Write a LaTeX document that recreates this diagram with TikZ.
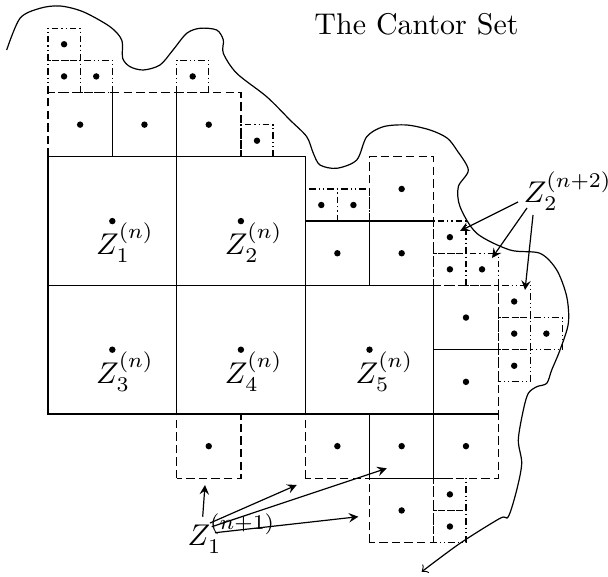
\documentclass[tikz,border=0pt]{standalone}
\usepackage{amsmath,amssymb}
\usepackage{tikz}
\usepackage{xcolor}
\usetikzlibrary{calc}
\begin{document}
\begin{tikzpicture}[scale=0.377,
  med/.style={dash pattern=on 2.8pt off 1.4pt},
  sml/.style={dash pattern=on 2.2pt off 1pt on 0.4pt off 1pt on 0.4pt off 1pt},
  lab/.style={inner sep=0pt, anchor=base west}]
\useasboundingbox (-1.493,-5.039) rectangle (17.418,12.877);
\node[anchor=base] (title) at (11.462,11.789) {The Cantor Set};
\draw (0,4) rectangle (4,8); \draw (4,4) rectangle (8,8);
\draw (0,0) rectangle (4,4); \draw (4,0) rectangle (8,4); \draw (8,0) rectangle (12,4);
\fill (2,6) circle (0.1); \fill (6,6) circle (0.1); \fill (2,2) circle (0.1);
\fill (6,2) circle (0.1); \fill (10,2) circle (0.1);
\node[lab] (za) at (1.48,4.96) {$Z_1^{(n)}$};
\node[lab] (zb) at (5.48,4.96) {$Z_2^{(n)}$};
\node[lab] (zc) at (1.48,0.96) {$Z_3^{(n)}$};
\node[lab] (zd) at (5.48,0.96) {$Z_4^{(n)}$};
\node[lab] (ze) at (9.55,0.96) {$Z_5^{(n)}$};
\draw[med] (0,8) rectangle (2,10); \draw[med] (2,8) rectangle (4,10); \draw[med] (4,8) rectangle (6,10);
\draw[med] (8,4) rectangle (10,6); \draw[med] (10,4) rectangle (12,6); \draw[med] (10,6) rectangle (12,8);
\draw[med] (12,2) rectangle (14,4); \draw[med] (12,0) rectangle (14,2);
\draw[med] (4,-2) rectangle (6,0); \draw[med] (8,-2) rectangle (10,0);
\draw[med] (10,-2) rectangle (12,0); \draw[med] (12,-2) rectangle (14,0);
\draw[med] (10,-4) rectangle (12,-2);
\draw (2,8) -- (2,10); \draw (4,8) -- (4,10);
\draw (8,6) -- (12,6); \draw (10,4) -- (10,6);
\draw (12,2) -- (14,2); \draw (12,0) -- (14,0);
\draw (12,0) -- (10,0) -- (10,-2) -- (12,-2) -- (12,0);
\fill (1,9) circle (0.1); \fill (3,9) circle (0.1); \fill (5,9) circle (0.1);
\fill (9,5) circle (0.1); \fill (11,5) circle (0.1); \fill (11,7) circle (0.1);
\fill (13,3) circle (0.1); \fill (13,1) circle (0.1);
\fill (5,-1) circle (0.1); \fill (9,-1) circle (0.1); \fill (11,-1) circle (0.1);
\fill (13,-1) circle (0.1); \fill (11,-3) circle (0.1);
\draw[sml] (0,11) rectangle (1,12); \draw[sml] (0,10) rectangle (1,11); \draw[sml] (1,10) rectangle (2,11);
\draw[sml] (4,10) rectangle (5,11); \draw[sml] (6,8) rectangle (7,9);
\draw[sml] (8,6) rectangle (9,7); \draw[sml] (9,6) rectangle (10,7);
\draw[sml] (12,5) rectangle (13,6); \draw[sml] (12,4) rectangle (13,5); \draw[sml] (13,4) rectangle (14,5);
\draw[sml] (14,3) rectangle (15,4); \draw[sml] (14,2) rectangle (15,3); \draw[sml] (15,2) rectangle (16,3);
\draw[sml] (14,1) rectangle (15,2);
\draw[sml] (12,-3) rectangle (13,-2); \draw[sml] (12,-4) rectangle (13,-3);
\fill (0.5,11.5) circle (0.1); \fill (0.5,10.5) circle (0.1); \fill (1.5,10.5) circle (0.1);
\fill (4.5,10.5) circle (0.1); \fill (6.5,8.5) circle (0.1);
\fill (8.5,6.5) circle (0.1); \fill (9.5,6.5) circle (0.1);
\fill (12.5,5.5) circle (0.1); \fill (12.5,4.5) circle (0.1); \fill (13.5,4.5) circle (0.1);
\fill (14.5,3.5) circle (0.1); \fill (14.5,2.5) circle (0.1); \fill (15.5,2.5) circle (0.1);
\fill (14.5,1.5) circle (0.1);
\fill (12.5,-2.5) circle (0.1); \fill (12.5,-3.5) circle (0.1);
\draw[->] plot[smooth, tension=0.5] coordinates {(-1.285,11.322) (-0.871,12.308) (-0.249,12.619)
  (0.373,12.691) (1.089,12.513) (1.928,12.047) (2.292,11.633) (2.323,11.064) (2.551,10.803)
  (2.964,10.700) (3.484,10.855) (3.888,11.322) (4.314,11.841) (4.728,11.997) (5.247,11.944)
  (5.453,11.633) (5.453,11.219) (5.869,10.597) (6.802,9.869) (7.527,9.145) (8.047,8.625)
  (8.252,8.109) (8.460,7.745) (8.980,7.642) (9.602,7.900) (9.913,8.625) (10.429,8.936)
  (11.157,8.989) (11.882,8.834) (12.411,8.585) (12.712,8.212) (13.073,7.589) (12.762,7.070)
  (12.815,6.448) (13.334,5.621) (14.370,5.101) (15.303,4.998) (15.823,4.479) (16.134,3.649)
  (16.184,2.821) (15.925,1.991) (15.667,1.369) (15.512,0.955) (15.201,0.849) (14.939,0.644)
  (14.784,0.124) (14.628,-0.809) (14.734,-1.533) (14.578,-2.364) (14.317,-3.194) (14.059,-3.244)
  (12.815,-4.022) (11.624,-4.905)};
\node[lab] (ztwo) at (14.78,6.563) {$Z_2^{(n+2)}$};
\coordinate (p1) at (12.815,5.692); \coordinate (p2) at (13.810,4.852); \coordinate (p3) at (14.837,3.857);
\draw[-stealth] ($(ztwo.base west)+(-0.161,0.031)$) -- (p1);
\draw[-stealth] ($(ztwo.base west)+(0.118,-0.156)$) -- (p2);
\draw[-stealth] ($(ztwo.base west)+(0.305,-0.373)$) -- (p3);
\node[lab] (zone) at (4.323,-4.075) {$Z_1^{(n+1)}$};
\coordinate (q1) at (4.883,-2.208); \coordinate (q2) at (7.736,-2.208);
\coordinate (q3) at (10.535,-1.689); \coordinate (q4) at (9.652,-3.194);
\draw[-stealth] ($(zone.base west)+(0.488,0.880)$) -- (q1);
\draw[-stealth] ($(zone.base west)+(0.715,0.684)$) -- (q2);
\draw[-stealth] ($(zone.base west)+(0.768,0.569)$) -- (q3);
\draw[-stealth] ($(zone.base west)+(0.871,0.383)$) -- (q4);
\end{tikzpicture}
\end{document}
